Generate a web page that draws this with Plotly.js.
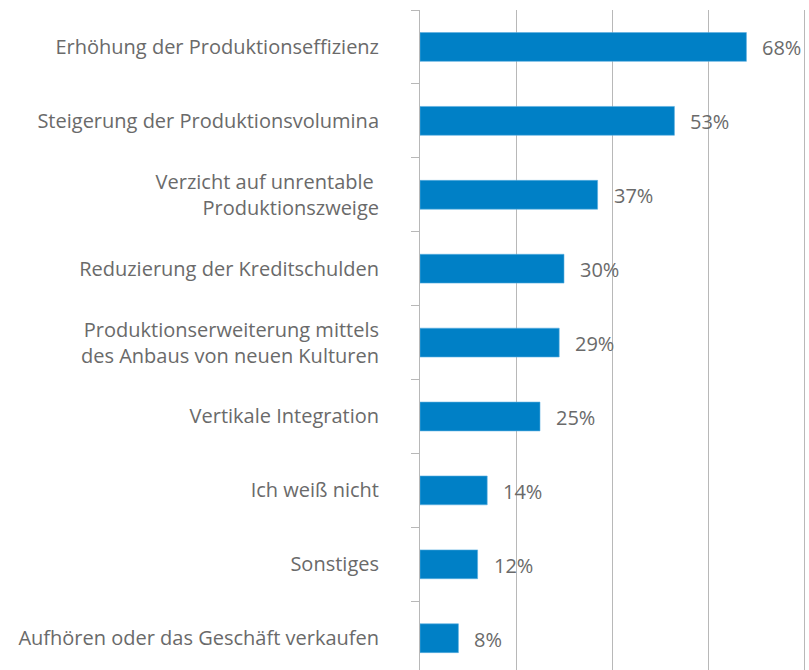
<!DOCTYPE html>
<html>
<head>
<meta charset="utf-8">
<script src="https://cdn.plot.ly/plotly-3.0.1.min.js"></script>
<style>
  body { margin: 0; background: #fff; }
  #chart { width: 809px; height: 670px; }
</style>
</head>
<body>
<div id="chart"></div>
<script>
const categories = [
    'Erhöhung der Produktionseffizienz',
    'Steigerung der Produktionsvolumina',
    'Verzicht auf unrentable\u00a0<br>Produktionszweige',
    'Reduzierung der Kreditschulden',
    'Produktionserweiterung mittels<br>des Anbaus von neuen Kulturen',
    'Vertikale Integration',
    'Ich weiß nicht',
    'Sonstiges',
    'Aufhören oder das Geschäft verkaufen'
];
const shares = [68, 53, 37, 30, 29, 25, 14, 12, 8];
const shareLabels = shares.map(v => v + '%');

const textColor = '#6a6a6a';
const gridColor = '#b8b8b8';

const data = [{
    type: 'bar',
    orientation: 'h',
    y: categories,
    x: shares,
    width: 0.39,
    marker: { color: '#0080c6', line: { color: '#5aaee0', width: 0.6 } },
    hoverinfo: 'skip'
}];

// value labels sit a bit to the right of each bar end
const annotations = shares.map((v, i) => ({
    x: v,
    y: categories[i],
    text: shareLabels[i],
    xanchor: 'left',
    yanchor: 'middle',
    xshift: 14,
    yshift: -1,
    showarrow: false,
    font: { family: 'Open Sans', size: 20, color: textColor }
}));

const layout = {
    width: 809,
    height: 670,
    margin: { l: 420, r: 0, t: 10, b: 0 },
    paper_bgcolor: '#ffffff',
    plot_bgcolor: '#ffffff',
    showlegend: false,
    font: { family: 'Open Sans', size: 20, color: textColor },
    xaxis: {
        range: [0, 81.04],
        dtick: 20,
        showgrid: true,
        gridcolor: gridColor,
        gridwidth: 1,
        zeroline: false,
        showline: false,
        showticklabels: false,
        fixedrange: true
    },
    yaxis: {
        type: 'category',
        range: [8.43, -0.5],
        showline: true,
        linecolor: gridColor,
        linewidth: 1,
        ticks: 'outside',
        tickson: 'boundaries',
        ticklen: 8,
        tickcolor: gridColor,
        ticklabelstandoff: 36,
        tickfont: { family: 'Open Sans', size: 20, color: textColor },
        showgrid: false,
        fixedrange: true
    },
    annotations: annotations
};

Plotly.newPlot('chart', data, layout, { displayModeBar: false, staticPlot: true });
</script>
</body>
</html>
